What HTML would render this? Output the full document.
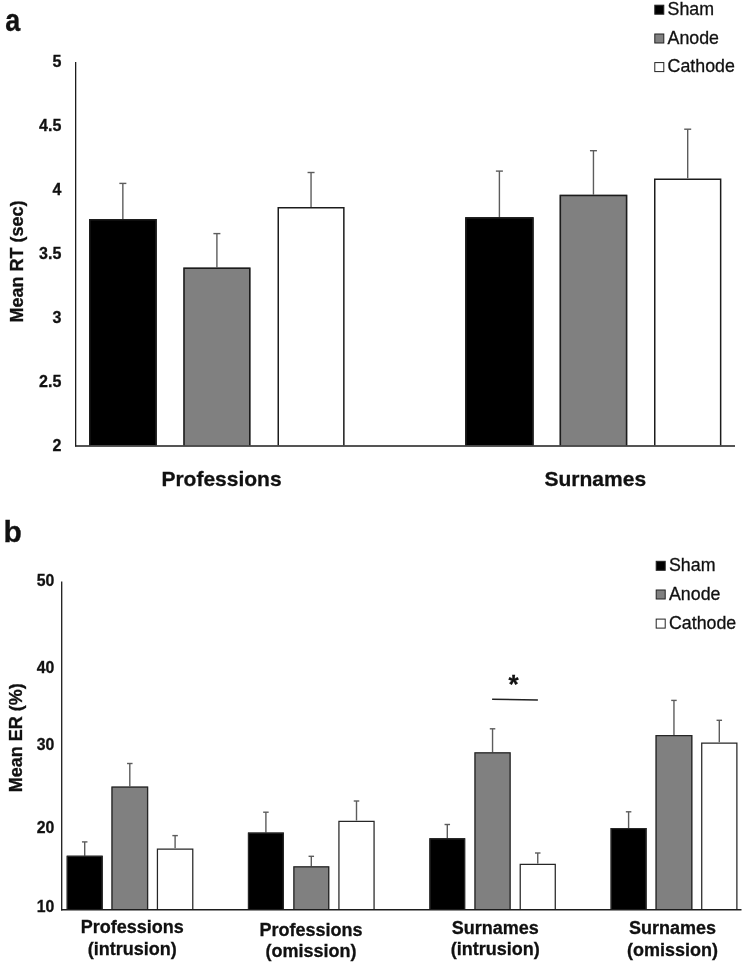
<!DOCTYPE html>
<html><head><meta charset="utf-8"><style>
html,body{margin:0;padding:0;background:#fff;}
svg{display:block;}
text{font-family:"Liberation Sans",sans-serif;fill:#111;stroke:#111;stroke-width:0.3px;}
svg{will-change:transform;}
</style></head><body>
<svg width="743" height="966" viewBox="0 0 743 966">
<rect width="743" height="966" fill="#fff"/>
<text transform="translate(5.2,31.2) scale(0.9,1.05)" font-size="30" font-weight="bold">a</text>
<text x="61.3" y="66.50" font-size="16" font-weight="bold" text-anchor="end">5</text>
<text x="61.3" y="130.57" font-size="16" font-weight="bold" text-anchor="end">4.5</text>
<text x="61.3" y="194.64" font-size="16" font-weight="bold" text-anchor="end">4</text>
<text x="61.3" y="258.71" font-size="16" font-weight="bold" text-anchor="end">3.5</text>
<text x="61.3" y="322.78" font-size="16" font-weight="bold" text-anchor="end">3</text>
<text x="61.3" y="386.85" font-size="16" font-weight="bold" text-anchor="end">2.5</text>
<text x="61.3" y="450.92" font-size="16" font-weight="bold" text-anchor="end">2</text>
<text transform="translate(23.3,261.5) rotate(-90)" font-size="18" font-weight="bold" text-anchor="middle">Mean RT (sec)</text>
<line x1="122.85" y1="219.00" x2="122.85" y2="183.40" stroke="#5c5c5c" stroke-width="1.4"/><line x1="119.35" y1="183.40" x2="126.35" y2="183.40" stroke="#5c5c5c" stroke-width="1.4"/>
<rect x="89.00" y="219.00" width="67.70" height="226.25" fill="#000"/><path d="M89.75,445.25V219.75H155.95V445.25" fill="none" stroke="#1c1c1c" stroke-width="1.5"/>
<line x1="216.90" y1="267.50" x2="216.90" y2="233.60" stroke="#5c5c5c" stroke-width="1.4"/><line x1="213.40" y1="233.60" x2="220.40" y2="233.60" stroke="#5c5c5c" stroke-width="1.4"/>
<rect x="183.30" y="267.50" width="67.20" height="177.75" fill="#808080"/><path d="M184.05,445.25V268.25H249.75V445.25" fill="none" stroke="#1c1c1c" stroke-width="1.5"/>
<line x1="311.05" y1="207.10" x2="311.05" y2="172.50" stroke="#5c5c5c" stroke-width="1.4"/><line x1="307.55" y1="172.50" x2="314.55" y2="172.50" stroke="#5c5c5c" stroke-width="1.4"/>
<rect x="277.50" y="207.10" width="67.10" height="238.15" fill="#fff"/><path d="M278.25,445.25V207.85H343.85V445.25" fill="none" stroke="#1c1c1c" stroke-width="1.5"/>
<line x1="499.40" y1="217.20" x2="499.40" y2="171.10" stroke="#5c5c5c" stroke-width="1.4"/><line x1="495.90" y1="171.10" x2="502.90" y2="171.10" stroke="#5c5c5c" stroke-width="1.4"/>
<rect x="465.20" y="217.20" width="68.40" height="228.05" fill="#000"/><path d="M465.95,445.25V217.95H532.85V445.25" fill="none" stroke="#1c1c1c" stroke-width="1.5"/>
<line x1="593.45" y1="194.70" x2="593.45" y2="150.70" stroke="#5c5c5c" stroke-width="1.4"/><line x1="589.95" y1="150.70" x2="596.95" y2="150.70" stroke="#5c5c5c" stroke-width="1.4"/>
<rect x="559.60" y="194.70" width="67.70" height="250.55" fill="#808080"/><path d="M560.35,445.25V195.45H626.55V445.25" fill="none" stroke="#1c1c1c" stroke-width="1.5"/>
<line x1="687.70" y1="178.40" x2="687.70" y2="129.20" stroke="#5c5c5c" stroke-width="1.4"/><line x1="684.20" y1="129.20" x2="691.20" y2="129.20" stroke="#5c5c5c" stroke-width="1.4"/>
<rect x="654.00" y="178.40" width="67.40" height="266.85" fill="#fff"/><path d="M654.75,445.25V179.15H720.65V445.25" fill="none" stroke="#1c1c1c" stroke-width="1.5"/>
<text x="221.5" y="486.3" font-size="21" font-weight="bold" text-anchor="middle">Professions</text>
<text x="595.3" y="486.3" font-size="21" font-weight="bold" text-anchor="middle">Surnames</text>
<rect x="654.80" y="5.20" width="9" height="9" fill="#000" stroke="#222" stroke-width="1"/>
<text x="667.60" y="15.00" font-size="17.8">Sham</text>
<rect x="654.80" y="34.00" width="9" height="9" fill="#808080" stroke="#222" stroke-width="1"/>
<text x="667.60" y="43.80" font-size="17.8">Anode</text>
<rect x="654.80" y="62.60" width="9" height="9" fill="#fff" stroke="#222" stroke-width="1"/>
<text x="667.60" y="72.40" font-size="17.8">Cathode</text>
<text x="3.5" y="541.5" font-size="30" font-weight="bold">b</text>
<text x="54.4" y="585.8" font-size="15.8" font-weight="bold" text-anchor="end">50</text>
<text x="54.4" y="673" font-size="15.8" font-weight="bold" text-anchor="end">40</text>
<text x="54.4" y="749.5" font-size="15.8" font-weight="bold" text-anchor="end">30</text>
<text x="54.4" y="832.9" font-size="15.8" font-weight="bold" text-anchor="end">20</text>
<text x="54.4" y="911.5" font-size="15.8" font-weight="bold" text-anchor="end">10</text>
<text transform="translate(22.3,737.7) rotate(-90)" font-size="18" font-weight="bold" text-anchor="middle">Mean ER (%)</text>
<line x1="84.70" y1="855.70" x2="84.70" y2="841.90" stroke="#5c5c5c" stroke-width="1.4"/><line x1="81.95" y1="841.90" x2="87.45" y2="841.90" stroke="#5c5c5c" stroke-width="1.4"/>
<rect x="66.70" y="855.70" width="36.00" height="53.40" fill="#000"/><path d="M67.33,909.10V856.33H102.08V909.10" fill="none" stroke="#262626" stroke-width="1.25"/>
<line x1="129.80" y1="786.50" x2="129.80" y2="763.50" stroke="#5c5c5c" stroke-width="1.4"/><line x1="127.05" y1="763.50" x2="132.55" y2="763.50" stroke="#5c5c5c" stroke-width="1.4"/>
<rect x="111.40" y="786.50" width="36.80" height="122.60" fill="#808080"/><path d="M112.03,909.10V787.12H147.57V909.10" fill="none" stroke="#262626" stroke-width="1.25"/>
<line x1="175.10" y1="848.40" x2="175.10" y2="835.60" stroke="#5c5c5c" stroke-width="1.4"/><line x1="172.35" y1="835.60" x2="177.85" y2="835.60" stroke="#5c5c5c" stroke-width="1.4"/>
<rect x="156.80" y="848.40" width="36.60" height="60.70" fill="#fff"/><path d="M157.43,909.10V849.02H192.78V909.10" fill="none" stroke="#262626" stroke-width="1.25"/>
<line x1="265.90" y1="832.60" x2="265.90" y2="812.20" stroke="#5c5c5c" stroke-width="1.4"/><line x1="263.15" y1="812.20" x2="268.65" y2="812.20" stroke="#5c5c5c" stroke-width="1.4"/>
<rect x="247.90" y="832.60" width="36.00" height="76.50" fill="#000"/><path d="M248.53,909.10V833.23H283.27V909.10" fill="none" stroke="#262626" stroke-width="1.25"/>
<line x1="311.30" y1="866.30" x2="311.30" y2="856.30" stroke="#5c5c5c" stroke-width="1.4"/><line x1="308.55" y1="856.30" x2="314.05" y2="856.30" stroke="#5c5c5c" stroke-width="1.4"/>
<rect x="293.30" y="866.30" width="36.00" height="42.80" fill="#808080"/><path d="M293.93,909.10V866.92H328.68V909.10" fill="none" stroke="#262626" stroke-width="1.25"/>
<line x1="356.50" y1="820.70" x2="356.50" y2="801.00" stroke="#5c5c5c" stroke-width="1.4"/><line x1="353.75" y1="801.00" x2="359.25" y2="801.00" stroke="#5c5c5c" stroke-width="1.4"/>
<rect x="338.30" y="820.70" width="36.40" height="88.40" fill="#fff"/><path d="M338.93,909.10V821.33H374.07V909.10" fill="none" stroke="#262626" stroke-width="1.25"/>
<line x1="447.30" y1="838.20" x2="447.30" y2="824.50" stroke="#5c5c5c" stroke-width="1.4"/><line x1="444.55" y1="824.50" x2="450.05" y2="824.50" stroke="#5c5c5c" stroke-width="1.4"/>
<rect x="429.40" y="838.20" width="35.80" height="70.90" fill="#000"/><path d="M430.02,909.10V838.83H464.57V909.10" fill="none" stroke="#262626" stroke-width="1.25"/>
<line x1="492.55" y1="752.30" x2="492.55" y2="728.80" stroke="#5c5c5c" stroke-width="1.4"/><line x1="489.80" y1="728.80" x2="495.30" y2="728.80" stroke="#5c5c5c" stroke-width="1.4"/>
<rect x="474.40" y="752.30" width="36.30" height="156.80" fill="#808080"/><path d="M475.02,909.10V752.92H510.07V909.10" fill="none" stroke="#262626" stroke-width="1.25"/>
<line x1="537.75" y1="863.80" x2="537.75" y2="853.00" stroke="#5c5c5c" stroke-width="1.4"/><line x1="535.00" y1="853.00" x2="540.50" y2="853.00" stroke="#5c5c5c" stroke-width="1.4"/>
<rect x="519.60" y="863.80" width="36.30" height="45.30" fill="#fff"/><path d="M520.23,909.10V864.42H555.27V909.10" fill="none" stroke="#262626" stroke-width="1.25"/>
<line x1="628.60" y1="828.00" x2="628.60" y2="811.80" stroke="#5c5c5c" stroke-width="1.4"/><line x1="625.85" y1="811.80" x2="631.35" y2="811.80" stroke="#5c5c5c" stroke-width="1.4"/>
<rect x="610.60" y="828.00" width="36.00" height="81.10" fill="#000"/><path d="M611.23,909.10V828.62H645.98V909.10" fill="none" stroke="#262626" stroke-width="1.25"/>
<line x1="673.95" y1="735.10" x2="673.95" y2="700.40" stroke="#5c5c5c" stroke-width="1.4"/><line x1="671.20" y1="700.40" x2="676.70" y2="700.40" stroke="#5c5c5c" stroke-width="1.4"/>
<rect x="655.50" y="735.10" width="36.90" height="174.00" fill="#808080"/><path d="M656.12,909.10V735.73H691.77V909.10" fill="none" stroke="#262626" stroke-width="1.25"/>
<line x1="719.30" y1="742.40" x2="719.30" y2="720.30" stroke="#5c5c5c" stroke-width="1.4"/><line x1="716.55" y1="720.30" x2="722.05" y2="720.30" stroke="#5c5c5c" stroke-width="1.4"/>
<rect x="701.10" y="742.40" width="36.40" height="166.70" fill="#fff"/><path d="M701.73,909.10V743.02H736.88V909.10" fill="none" stroke="#262626" stroke-width="1.25"/>
<line x1="492.1" y1="699.2" x2="537.9" y2="700" stroke="#222" stroke-width="1.4"/>
<text x="513.5" y="692.5" font-size="26" font-weight="bold" text-anchor="middle">*</text>
<text x="132.3" y="932.9" font-size="18" font-weight="bold" text-anchor="middle">Professions</text>
<text x="132.3" y="954.5" font-size="18" font-weight="bold" text-anchor="middle">(intrusion)</text>
<text x="311" y="935.9" font-size="18" font-weight="bold" text-anchor="middle">Professions</text>
<text x="311" y="957.2" font-size="18" font-weight="bold" text-anchor="middle">(omission)</text>
<text x="495.3" y="934.1" font-size="18" font-weight="bold" text-anchor="middle">Surnames</text>
<text x="495.3" y="955.1" font-size="18" font-weight="bold" text-anchor="middle">(intrusion)</text>
<text x="672.6" y="934.1" font-size="18" font-weight="bold" text-anchor="middle">Surnames</text>
<text x="672.6" y="956.2" font-size="18" font-weight="bold" text-anchor="middle">(omission)</text>
<rect x="656.20" y="561.30" width="9" height="9" fill="#000" stroke="#222" stroke-width="1"/>
<text x="669.00" y="571.10" font-size="17.8">Sham</text>
<rect x="656.20" y="590.00" width="9" height="9" fill="#808080" stroke="#222" stroke-width="1"/>
<text x="669.00" y="599.80" font-size="17.8">Anode</text>
<rect x="656.20" y="619.10" width="9" height="9" fill="#fff" stroke="#222" stroke-width="1"/>
<text x="669.00" y="628.90" font-size="17.8">Cathode</text>
<line x1="75.65" y1="62" x2="75.65" y2="446.55" stroke="#1c1c1c" stroke-width="1.3"/>
<line x1="75.05000000000001" y1="445.95" x2="735" y2="445.95" stroke="#1c1c1c" stroke-width="1.5"/>
<line x1="61.7" y1="581.4" x2="61.7" y2="910.4" stroke="#1c1c1c" stroke-width="1.3"/>
<line x1="61.1" y1="909.8" x2="741.5" y2="909.8" stroke="#1c1c1c" stroke-width="1.5"/>
</svg>
</body></html>
